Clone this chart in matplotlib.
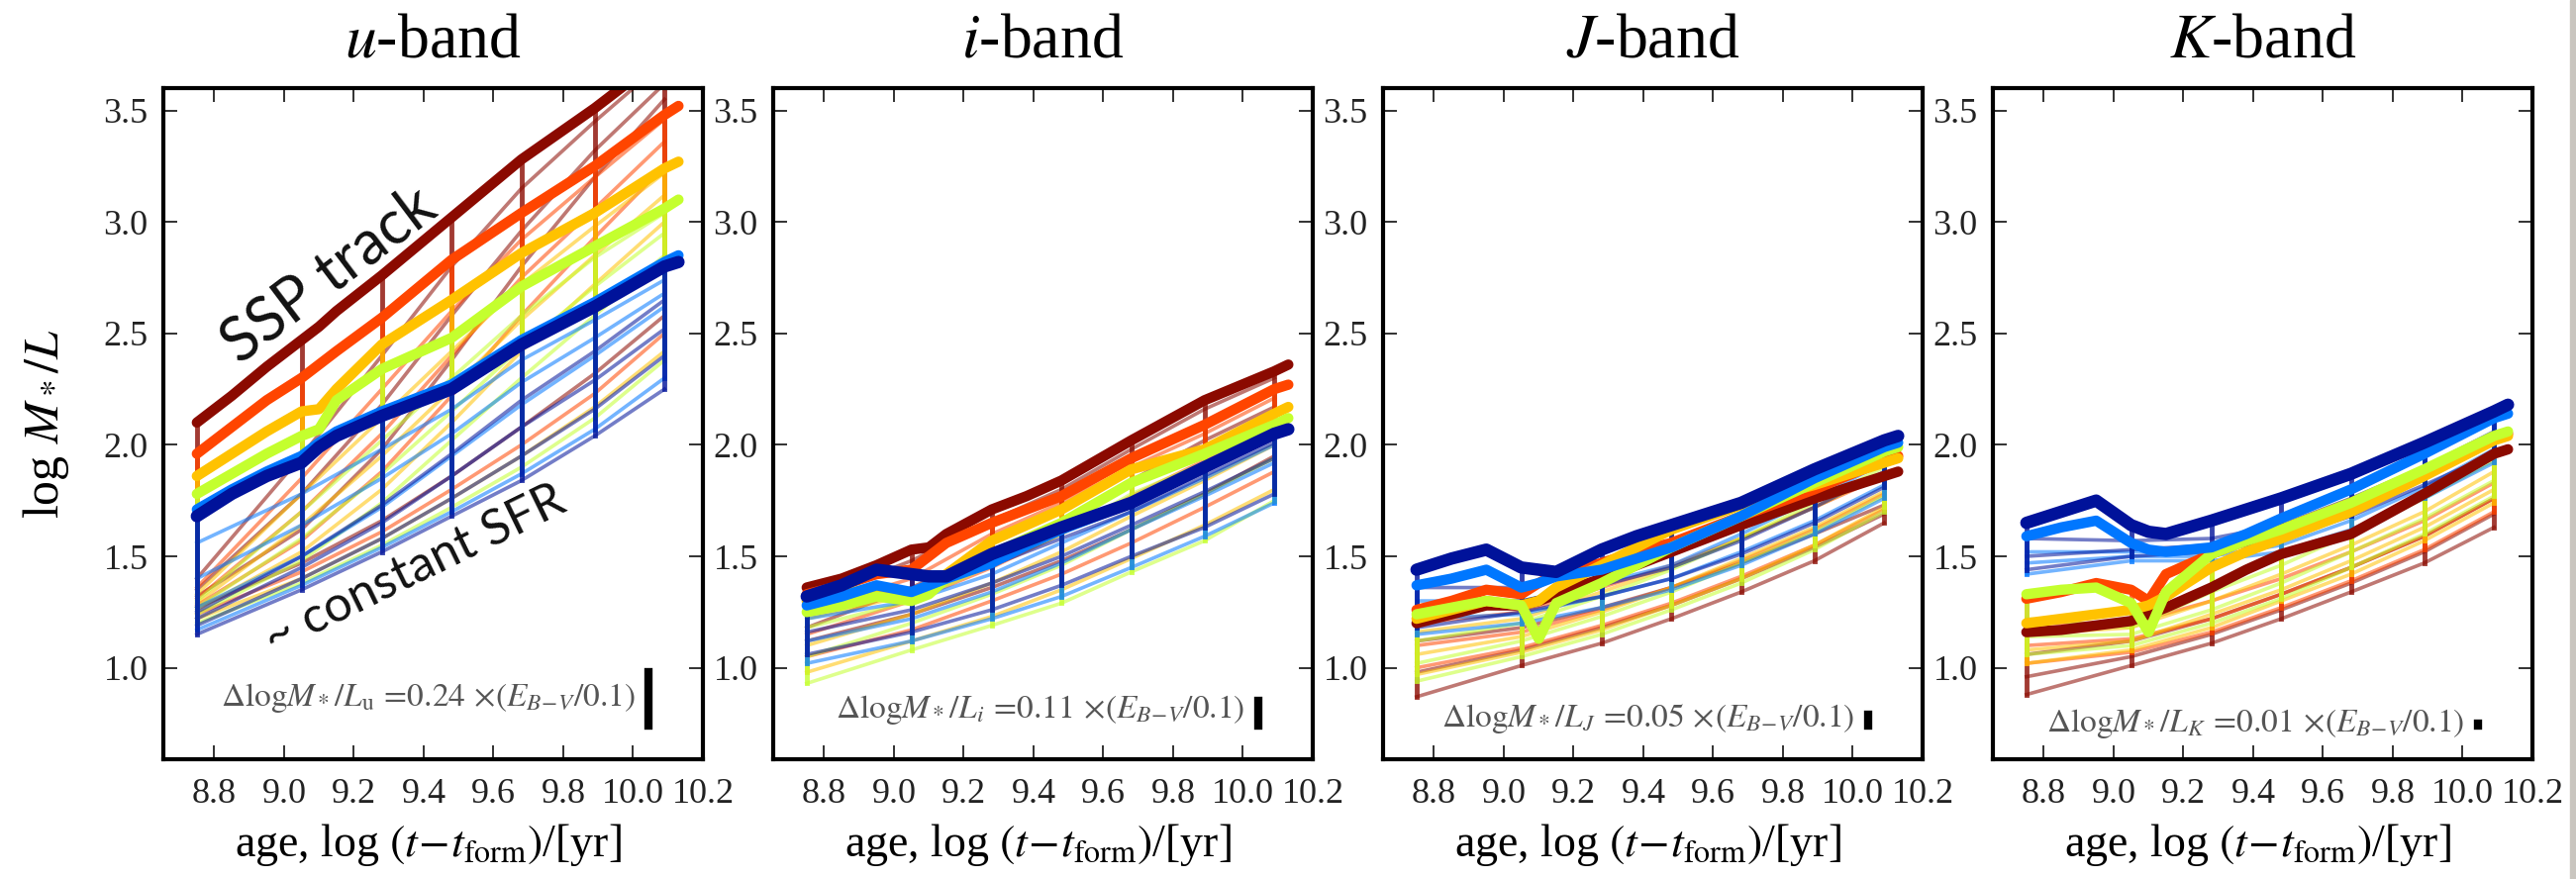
import matplotlib
matplotlib.use('agg')
import matplotlib.pyplot as plt
from matplotlib.patches import Rectangle
from matplotlib.ticker import FormatStrFormatter

plt.rcParams['font.family'] = ['Liberation Serif', 'DejaVu Serif']
plt.rcParams['mathtext.fontset'] = 'stix'

# ---- data ----
# fine age grid for the SSP tracks, coarse grid for the SFH model tracks
age_fine = [8.75, 8.85, 8.95, 9.05, 9.10, 9.15, 9.28, 9.38, 9.48, 9.68, 9.89, 10.09, 10.13]
ages = [8.75, 9.05, 9.28, 9.48, 9.68, 9.89, 10.09]

# metallicity colours, from metal rich (dark red) to metal poor (dark blue)
met_colors = ['#8b0a00', '#ff4500', '#ffc200', '#c4ff2e', '#0077ff', '#00129a']

bands = ['u', 'i', 'J', 'K']
band_sub = [r'{\rm u}', 'i', 'J', 'K']
dust_shift = [0.24, 0.11, 0.05, 0.01]
dust_text_y = [0.865, 0.81, 0.77, 0.75]

# SSP tracks (one row per metallicity, values on age_fine)
u_ssp = [
    [2.10, 2.22, 2.35, 2.47, 2.53, 2.60, 2.76, 2.89, 3.02, 3.28, 3.51, 3.75, 3.80],
    [1.96, 2.08, 2.20, 2.30, 2.36, 2.42, 2.57, 2.70, 2.83, 3.04, 3.25, 3.48, 3.52],
    [1.86, 1.96, 2.06, 2.15, 2.16, 2.25, 2.45, 2.55, 2.65, 2.86, 3.04, 3.24, 3.27],
    [1.78, 1.87, 1.96, 2.04, 2.07, 2.20, 2.34, 2.41, 2.48, 2.71, 2.89, 3.06, 3.10],
    [1.71, 1.80, 1.88, 1.95, 2.01, 2.06, 2.15, 2.21, 2.27, 2.47, 2.64, 2.82, 2.85],
    [1.68, 1.78, 1.86, 1.92, 1.99, 2.04, 2.13, 2.19, 2.25, 2.45, 2.62, 2.80, 2.82],
]
i_ssp = [
    [1.36, 1.40, 1.46, 1.53, 1.54, 1.60, 1.71, 1.77, 1.84, 2.02, 2.20, 2.33, 2.36],
    [1.33, 1.37, 1.42, 1.44, 1.50, 1.56, 1.65, 1.71, 1.77, 1.94, 2.09, 2.25, 2.27],
    [1.30, 1.33, 1.36, 1.33, 1.36, 1.42, 1.57, 1.64, 1.71, 1.89, 1.98, 2.14, 2.17],
    [1.25, 1.28, 1.32, 1.30, 1.33, 1.40, 1.51, 1.58, 1.65, 1.83, 1.96, 2.09, 2.12],
    [1.28, 1.32, 1.37, 1.34, 1.37, 1.40, 1.47, 1.55, 1.62, 1.74, 1.90, 2.05, 2.07],
    [1.32, 1.37, 1.44, 1.42, 1.41, 1.41, 1.51, 1.57, 1.63, 1.74, 1.90, 2.05, 2.07],
]
J_ssp = [
    [1.20, 1.24, 1.28, 1.28, 1.30, 1.33, 1.40, 1.46, 1.52, 1.64, 1.76, 1.86, 1.88],
    [1.26, 1.30, 1.35, 1.33, 1.38, 1.42, 1.47, 1.52, 1.56, 1.68, 1.80, 1.93, 1.95],
    [1.22, 1.26, 1.30, 1.28, 1.30, 1.36, 1.46, 1.54, 1.62, 1.73, 1.82, 1.92, 1.94],
    [1.24, 1.27, 1.30, 1.28, 1.13, 1.29, 1.38, 1.46, 1.54, 1.68, 1.83, 1.97, 1.99],
    [1.37, 1.40, 1.44, 1.36, 1.38, 1.41, 1.44, 1.49, 1.54, 1.68, 1.85, 1.99, 2.01],
    [1.44, 1.49, 1.53, 1.45, 1.44, 1.43, 1.53, 1.59, 1.64, 1.74, 1.89, 2.02, 2.04],
]
K_ssp = [
    [1.16, 1.17, 1.19, 1.21, 1.24, 1.27, 1.36, 1.44, 1.51, 1.60, 1.78, 1.96, 1.98],
    [1.31, 1.34, 1.38, 1.35, 1.30, 1.42, 1.51, 1.57, 1.62, 1.74, 1.88, 2.03, 2.05],
    [1.20, 1.22, 1.24, 1.26, 1.28, 1.32, 1.45, 1.52, 1.58, 1.70, 1.86, 2.02, 2.04],
    [1.33, 1.35, 1.36, 1.29, 1.16, 1.34, 1.51, 1.57, 1.62, 1.74, 1.89, 2.04, 2.06],
    [1.59, 1.63, 1.66, 1.56, 1.53, 1.52, 1.54, 1.60, 1.67, 1.80, 1.96, 2.12, 2.14],
    [1.65, 1.70, 1.75, 1.64, 1.61, 1.60, 1.66, 1.71, 1.76, 1.87, 2.01, 2.15, 2.18],
]

# extended SFH tracks down to ~constant SFR (values on ages)
u_sfh = [
    [[1.40, 1.95, 2.40, 2.80, 3.15, 3.45, 3.72], [1.35, 1.78, 2.18, 2.58, 2.96, 3.32, 3.62], [1.32, 1.62, 1.98, 2.38, 2.80, 3.20, 3.55], [1.27, 1.47, 1.66, 1.86, 2.08, 2.32, 2.58]],
    [[1.36, 1.85, 2.25, 2.60, 2.92, 3.20, 3.46], [1.31, 1.70, 2.05, 2.40, 2.75, 3.06, 3.36], [1.28, 1.57, 1.88, 2.22, 2.58, 2.93, 3.25], [1.24, 1.43, 1.61, 1.80, 2.00, 2.23, 2.50]],
    [[1.33, 1.78, 2.12, 2.42, 2.72, 2.98, 3.22], [1.29, 1.64, 1.95, 2.25, 2.56, 2.85, 3.12], [1.26, 1.52, 1.80, 2.10, 2.42, 2.72, 3.00], [1.22, 1.40, 1.58, 1.76, 1.95, 2.17, 2.42]],
    [[1.30, 1.70, 2.02, 2.30, 2.58, 2.84, 3.04], [1.27, 1.58, 1.87, 2.15, 2.44, 2.71, 2.95], [1.24, 1.48, 1.74, 2.02, 2.30, 2.58, 2.85], [1.20, 1.38, 1.55, 1.72, 1.90, 2.12, 2.38]],
    [[1.56, 1.78, 1.98, 2.16, 2.38, 2.56, 2.74], [1.40, 1.64, 1.85, 2.05, 2.28, 2.48, 2.68], [1.27, 1.50, 1.72, 1.95, 2.18, 2.40, 2.62], [1.17, 1.37, 1.54, 1.70, 1.87, 2.07, 2.30]],
    [[1.25, 1.50, 1.73, 1.96, 2.20, 2.42, 2.65], [1.22, 1.45, 1.65, 1.86, 2.08, 2.29, 2.52], [1.19, 1.40, 1.58, 1.76, 1.95, 2.16, 2.40], [1.15, 1.35, 1.52, 1.68, 1.84, 2.04, 2.25]],
]
i_sfh = [
    [[1.30, 1.48, 1.66, 1.80, 1.98, 2.16, 2.30], [1.18, 1.36, 1.52, 1.66, 1.84, 2.02, 2.17], [1.12, 1.24, 1.36, 1.48, 1.62, 1.78, 1.95]],
    [[1.26, 1.40, 1.60, 1.74, 1.90, 2.05, 2.21], [1.15, 1.30, 1.45, 1.60, 1.77, 1.93, 2.10], [1.05, 1.17, 1.30, 1.42, 1.56, 1.72, 1.88]],
    [[1.22, 1.33, 1.52, 1.66, 1.84, 1.95, 2.10], [1.10, 1.24, 1.38, 1.52, 1.68, 1.84, 2.00], [0.98, 1.12, 1.23, 1.35, 1.49, 1.64, 1.80]],
    [[1.18, 1.30, 1.46, 1.60, 1.78, 1.92, 2.05], [1.05, 1.20, 1.33, 1.46, 1.62, 1.78, 1.94], [0.93, 1.08, 1.19, 1.29, 1.43, 1.57, 1.75]],
    [[1.22, 1.30, 1.42, 1.56, 1.70, 1.85, 2.00], [1.12, 1.22, 1.34, 1.47, 1.62, 1.77, 1.92], [1.02, 1.12, 1.22, 1.32, 1.45, 1.59, 1.74]],
    [[1.26, 1.34, 1.46, 1.58, 1.70, 1.86, 2.01], [1.16, 1.26, 1.38, 1.50, 1.64, 1.79, 1.94], [1.06, 1.16, 1.26, 1.37, 1.50, 1.63, 1.78]],
]
J_sfh = [
    [[1.12, 1.18, 1.27, 1.36, 1.47, 1.60, 1.73], [0.98, 1.08, 1.18, 1.28, 1.40, 1.54, 1.69], [0.87, 1.01, 1.11, 1.22, 1.34, 1.48, 1.65]],
    [[1.20, 1.25, 1.36, 1.46, 1.58, 1.72, 1.86], [1.10, 1.16, 1.26, 1.36, 1.48, 1.62, 1.78], [1.00, 1.09, 1.19, 1.29, 1.41, 1.55, 1.71]],
    [[1.16, 1.22, 1.34, 1.45, 1.58, 1.72, 1.87], [1.06, 1.14, 1.25, 1.36, 1.49, 1.63, 1.79], [0.97, 1.07, 1.17, 1.28, 1.40, 1.55, 1.72]],
    [[1.12, 1.20, 1.32, 1.44, 1.58, 1.74, 1.90], [1.02, 1.12, 1.23, 1.34, 1.47, 1.61, 1.77], [0.94, 1.05, 1.15, 1.26, 1.38, 1.53, 1.70]],
    [[1.30, 1.30, 1.38, 1.46, 1.60, 1.76, 1.92], [1.22, 1.24, 1.32, 1.40, 1.52, 1.66, 1.82], [1.15, 1.20, 1.27, 1.35, 1.46, 1.60, 1.76]],
    [[1.36, 1.36, 1.44, 1.52, 1.64, 1.80, 1.95], [1.27, 1.30, 1.37, 1.45, 1.57, 1.72, 1.88], [1.18, 1.25, 1.32, 1.40, 1.51, 1.65, 1.81]],
]
K_sfh = [
    [[1.06, 1.12, 1.22, 1.33, 1.45, 1.59, 1.76], [0.96, 1.05, 1.15, 1.26, 1.38, 1.52, 1.69], [0.88, 1.01, 1.11, 1.22, 1.34, 1.47, 1.63]],
    [[1.20, 1.20, 1.30, 1.40, 1.52, 1.66, 1.83], [1.10, 1.13, 1.22, 1.33, 1.45, 1.59, 1.76], [1.02, 1.07, 1.16, 1.27, 1.39, 1.53, 1.70]],
    [[1.15, 1.18, 1.30, 1.42, 1.55, 1.70, 1.88], [1.08, 1.12, 1.24, 1.35, 1.48, 1.63, 1.80], [1.02, 1.08, 1.18, 1.30, 1.42, 1.57, 1.74]],
    [[1.22, 1.18, 1.34, 1.46, 1.60, 1.76, 1.93], [1.14, 1.15, 1.26, 1.38, 1.52, 1.67, 1.84], [1.06, 1.10, 1.20, 1.31, 1.45, 1.60, 1.77]],
    [[1.52, 1.52, 1.52, 1.58, 1.70, 1.86, 2.03], [1.47, 1.50, 1.50, 1.55, 1.66, 1.81, 1.98], [1.42, 1.48, 1.48, 1.52, 1.62, 1.76, 1.92]],
    [[1.58, 1.57, 1.58, 1.64, 1.76, 1.90, 2.06], [1.50, 1.53, 1.55, 1.61, 1.72, 1.86, 2.01], [1.44, 1.50, 1.52, 1.58, 1.68, 1.82, 1.96]],
]

ssp_all = [u_ssp, i_ssp, J_ssp, K_ssp]
sfh_all = [u_sfh, i_sfh, J_sfh, K_sfh]

# ---- figure ----
W, H = 2602, 888
fig = plt.figure(figsize=(W / 100, H / 100), dpi=100)
lefts = [165, 781, 1397, 2013]

for k in range(4):
    ax = fig.add_axes([lefts[k] / W, 1 - 767 / H, 545 / W, 678 / H])
    ssp = ssp_all[k]
    sfh = sfh_all[k]

    # thin SFH tracks
    for c in range(6):
        for row in sfh[c]:
            ax.plot(ages, row, color=met_colors[c], lw=2.6, alpha=0.55)
    # vertical lines joining models of the same age
    for c in range(6):
        for j, a in enumerate(ages):
            vals = [row[j] for row in sfh[c]] + [ssp[c][age_fine.index(a)]]
            ax.plot([a, a], [min(vals), max(vals)], color=met_colors[c], lw=3.5, alpha=0.8)
    # SSP tracks
    for c in range(6):
        ax.plot(age_fine, ssp[c], color=met_colors[c], lw=9 if c == 5 else 7.5,
                solid_capstyle='round', solid_joinstyle='round')

    ax.set_xlim(8.654, 10.2)
    ax.set_ylim(0.59, 3.6)
    ax.set_xticks([8.8, 9.0, 9.2, 9.4, 9.6, 9.8, 10.0, 10.2])
    ax.set_yticks([1.0, 1.5, 2.0, 2.5, 3.0, 3.5])
    ax.xaxis.set_major_formatter(FormatStrFormatter('%.1f'))
    ax.yaxis.set_major_formatter(FormatStrFormatter('%.1f'))
    ax.tick_params(direction='in', length=10, width=1.3, top=True, right=True,
                   labelsize=26, pad=11, colors='#222222')
    ax.tick_params(axis='x', pad=14)
    for s in ax.spines.values():
        s.set_linewidth(3)

    ax.text(0.5, 1.069, '$%s$-band' % bands[k], transform=ax.transAxes,
            ha='center', va='center', fontsize=46)
    ax.text(0.49, -0.128, r'age, log $(t\!-\!t_{\rm form})$/[yr]', transform=ax.transAxes,
            ha='center', va='center', fontsize=33)

    # dust shift note and bar
    d = dust_shift[k]
    ax.text(10.005, dust_text_y[k],
            r'$\Delta\mathrm{log}M_*/L_{%s}\,=\!%.2f\,\times\!(E_{B\!-\!V}/0.1)$' % (band_sub[k], d),
            ha='right', va='center', fontsize=24, color='#555555')
    ax.plot([10.045, 10.045], [0.74, 0.74 + d], color='black', lw=6, solid_capstyle='projecting')

    if k == 0:
        ax.text(-0.217, 0.5, r'log $M_*/L$', transform=ax.transAxes, rotation=90,
                ha='center', va='center', fontsize=36)
        ax.text(9.13, 2.76, 'SSP track', family='Lato', fontsize=44, rotation=37,
                rotation_mode='anchor', ha='center', va='center', color='#111111')
        ax.text(9.375, 1.44, '~ constant SFR', family='Lato', fontsize=36, rotation=26,
                rotation_mode='anchor', ha='center', va='center', color='#111111')

# grey slide edge on the right
fig.patches.append(Rectangle((2596 / W, 0), 6 / W, 1, transform=fig.transFigure,
                             color='#c9c5bf', zorder=-1))

fig.savefig('out.png', dpi=100)
